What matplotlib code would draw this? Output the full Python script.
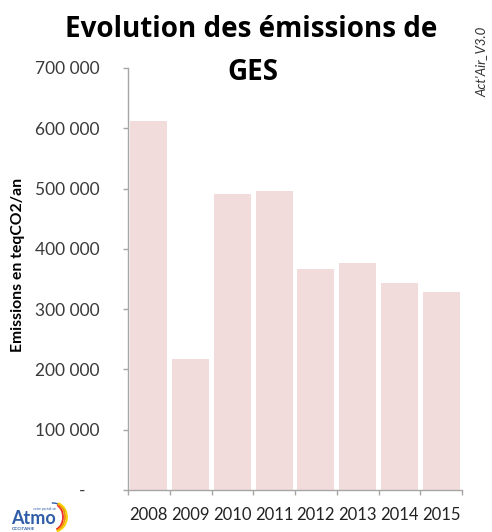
import matplotlib
matplotlib.use("Agg")
import matplotlib.pyplot as plt
from matplotlib.patches import Arc
from matplotlib.ticker import FixedLocator

# Annual greenhouse-gas emissions (teqCO2/an)
years = ["2008", "2009", "2010", "2011", "2012", "2013", "2014", "2015"]
emissions = [612000, 217000, 491000, 496000, 366000, 376000, 343000, 328000]

y_ticks = [0, 100000, 200000, 300000, 400000, 500000, 600000, 700000]
y_tick_labels = ["-   ", "100 000", "200 000", "300 000", "400 000",
                 "500 000", "600 000", "700 000"]

title_lines = ["Evolution des émissions de", "GES"]
y_label = "Emissions en teqCO2/an"
version_text = "Act'Air_V3.0"

BAR_COLOR = "#F2DCDB"
AXIS_COLOR = "#A6A6A6"
TEXT_COLOR = "#3A3A3A"
FONT = "Lato"
TITLE_FONT = "Open Sans"

W, H = 492, 532
fig = plt.figure(figsize=(W / 100, H / 100), dpi=100)
ax = fig.add_axes([128 / W, 1 - 490 / H, 334 / W, 422 / H])

x = range(len(years))
ax.bar(x, emissions, width=0.89, color=BAR_COLOR, edgecolor="none", zorder=2)

ax.set_xlim(-0.5, len(years) - 0.5)
ax.set_ylim(0, 700000)

for side in ("top", "right"):
    ax.spines[side].set_visible(False)
for side in ("left", "bottom"):
    ax.spines[side].set_color(AXIS_COLOR)
    ax.spines[side].set_linewidth(1.0)

ax.set_yticks(y_ticks)
ax.set_yticklabels(y_tick_labels, fontfamily=FONT, fontsize=12.5, color=TEXT_COLOR)
ax.tick_params(axis="y", direction="out", length=3.6, width=1, color=AXIS_COLOR, pad=17)

# category labels centred, tick marks on category boundaries
ax.set_xticks(list(x))
ax.set_xticklabels(years, fontfamily=FONT, fontsize=12, color="#222222")
ax.tick_params(axis="x", which="major", length=0, pad=12)
ax.xaxis.set_minor_locator(FixedLocator([i - 0.5 for i in range(len(years) + 1)]))
ax.tick_params(axis="x", which="minor", direction="out", length=3.6, width=1, color=AXIS_COLOR)

fig.text(18 / W, 1 - 265 / H, y_label, rotation=90, ha="center", va="center",
         fontfamily=FONT, fontsize=11.3, fontweight="bold", color="black")

fig.text(251 / W, 1 - 37 / H, title_lines[0], ha="center", va="baseline",
         fontfamily=TITLE_FONT, fontsize=20, fontweight="bold", color="black")
fig.text(253 / W, 1 - 80 / H, title_lines[1], ha="center", va="baseline",
         fontfamily=TITLE_FONT, fontsize=20, fontweight="bold", color="black")

fig.text(481 / W, 1 - 62 / H, version_text, ha="center", va="center", rotation=90,
         fontfamily=FONT, fontsize=9.5, fontstyle="italic", color="#333333")

# Atmo Occitanie logo
logo = fig.add_axes([5 / W, 0.0, 70 / W, 32 / H])
logo.set_xlim(0, 70)
logo.set_ylim(0, 32)
logo.axis("off")
logo.text(6, 13, "Atmo", fontfamily=FONT, fontsize=13, fontweight="bold",
          color="#2F5DA8", va="center", ha="left")
logo.text(7, 3.5, "OCCITANIE", fontfamily=FONT, fontsize=3.2, fontweight="bold",
          color="#2F5DA8", va="center", ha="left")
logo.text(28, 23, "votre portail air", fontfamily=FONT, fontsize=2.4,
          color="#2F5DA8", va="center", ha="left")
logo.add_patch(Arc((48, 15), 26, 28, theta1=20, theta2=95, color="#2F5DA8", lw=1.0))
for w, h, c in [(20, 26, "#E9302C"), (24, 28, "#F39200"), (28, 30, "#F6D000")]:
    logo.add_patch(Arc((48, 15), w, h, theta1=-75, theta2=70, color=c, lw=1.3))

fig.savefig("out.png", dpi=100)
